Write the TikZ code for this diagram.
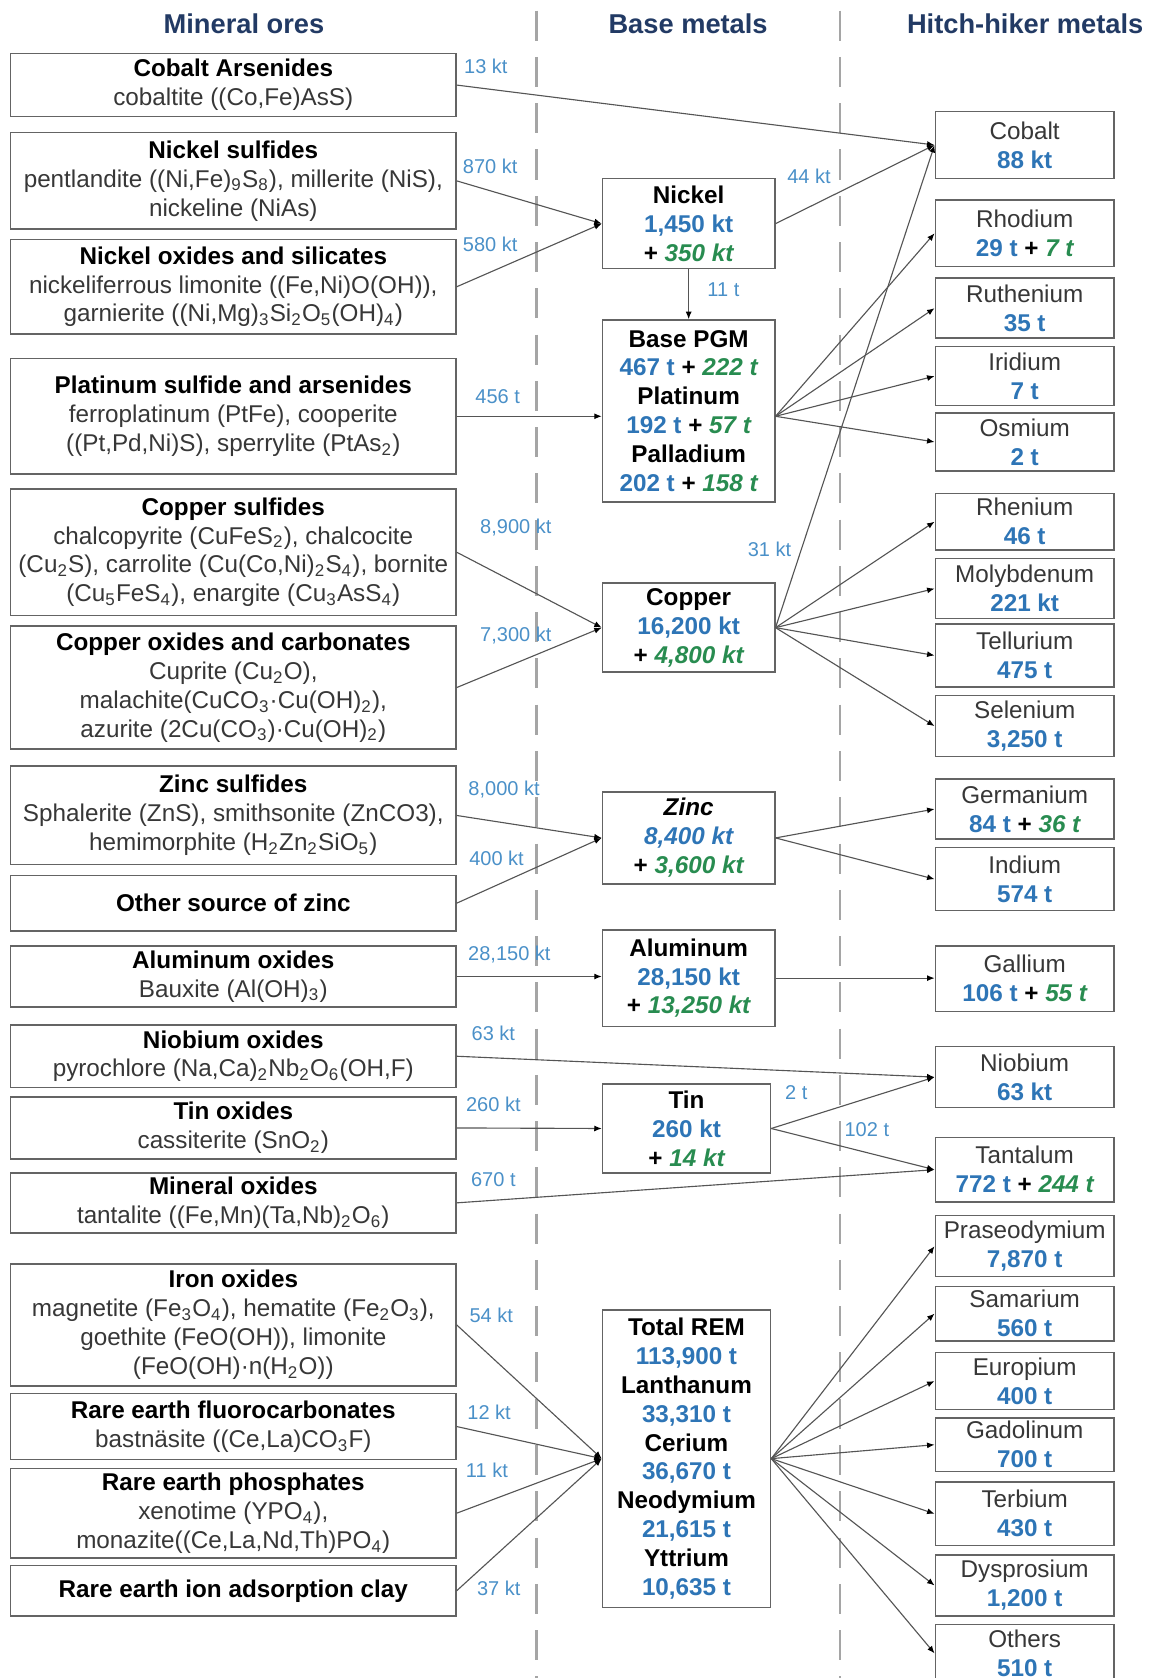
\documentclass[tikz,border=0pt]{standalone}
\usepackage{fontspec}
\setmainfont{Liberation Sans}
\usetikzlibrary{arrows.meta}
\definecolor{valblue}{RGB}{46,117,182}
\definecolor{lblblue}{RGB}{74,144,200}
\definecolor{valgreen}{RGB}{40,140,80}
\definecolor{hdrcol}{RGB}{34,58,100}
\definecolor{boxgray}{RGB}{100,100,100}
\definecolor{txtgray}{RGB}{55,55,55}
\definecolor{lngray}{RGB}{85,85,85}
\definecolor{dashgray}{RGB}{165,165,165}
\newcommand\sbs[1]{\textsubscript{#1}}
\newcommand\ttl[1]{{\bfseries\color{black}#1}}
\newcommand\bl[1]{{\bfseries\color{valblue}#1}}
\newcommand\gr[1]{{\bfseries\itshape\color{valgreen}#1}}
\newcommand\pl{{\bfseries\color{black}+}}
\def\U{0.4279pt}
\newcommand\bx[6]{\node[mbox, minimum width={(#4-#2)*\U}, minimum height={(#5-#3)*\U}] (#1) at ({(#2+#4)/2},{(#3+#5)/2}) {#6};}
\begin{document}
\begin{tikzpicture}[x=0.4279pt,y=-0.4279pt,
  mbox/.style={draw=boxgray, line width=0.6pt, inner sep=0pt, align=center, fill=white,
    font=\fontsize{9.7}{11.55}\selectfont, text=txtgray},
  lbl/.style={font=\fontsize{8}{9.6}\selectfont, text=lblblue, inner sep=0pt},
  hdr/.style={font=\fontsize{10.9}{13}\selectfont\bfseries, text=hdrcol, inner sep=0pt},
  conn/.style={draw=lngray, line width=0.45pt, -{Latex[length=3pt,width=2.4pt,color=black]}},
  dashln/.style={draw=dashgray, line width=1.1pt, dash pattern=on 12pt off 6.5pt}]
\useasboundingbox (0,0) rectangle (1075,1568);
% dashed separators
\coordinate (d1t) at (501,10); \coordinate (d1b) at (501,1575);
\coordinate (d2t) at (785,10); \coordinate (d2b) at (785,1575);
\draw[dashln] (d1t) -- (d1b);
\draw[dashln] (d2t) -- (d2b);
% headers
\node[hdr] (h1) at (228,22) {Mineral ores};
\node[hdr] (h2) at (643,22) {Base metals};
\node[hdr] (h3) at (958,22) {Hitch-hiker metals};
% left boxes
\bx{coA}{10}{50}{426}{109}{\ttl{Cobalt Arsenides}\\cobaltite ((Co,Fe)AsS)}
\bx{niS}{10}{124}{426}{214}{\ttl{Nickel sulfides}\\pentlandite ((Ni,Fe)\sbs{9}S\sbs{8}), millerite (NiS),\\nickeline (NiAs)}
\bx{niO}{10}{224}{426}{312}{\ttl{Nickel oxides and silicates}\\nickeliferrous limonite ((Fe,Ni)O(OH)),\\garnierite ((Ni,Mg)\sbs{3}Si\sbs{2}O\sbs{5}(OH)\sbs{4})}
\bx{ptS}{10}{335}{426}{443}{\ttl{Platinum sulfide and arsenides}\\ferroplatinum (PtFe), cooperite\\((Pt,Pd,Ni)S), sperrylite (PtAs\sbs{2})}
\bx{cuS}{10}{457}{426}{575}{\ttl{Copper sulfides}\\chalcopyrite (CuFeS\sbs{2}), chalcocite\\(Cu\sbs{2}S), carrolite (Cu(Co,Ni)\sbs{2}S\sbs{4}), bornite\\(Cu\sbs{5}FeS\sbs{4}), enargite (Cu\sbs{3}AsS\sbs{4})}
\bx{cuO}{10}{585}{426}{700}{\ttl{Copper oxides and carbonates}\\Cuprite (Cu\sbs{2}O),\\malachite(CuCO\sbs{3}·Cu(OH)\sbs{2}),\\azurite (2Cu(CO\sbs{3})·Cu(OH)\sbs{2})}
\bx{znS}{10}{716}{426}{808}{\ttl{Zinc sulfides}\\Sphalerite (ZnS), smithsonite (ZnCO3),\\hemimorphite (H\sbs{2}Zn\sbs{2}SiO\sbs{5})}
\bx{znO}{10}{818}{426}{870}{\ttl{Other source of zinc}}
\bx{alO}{10}{884}{426}{941}{\ttl{Aluminum oxides}\\Bauxite (Al(OH)\sbs{3})}
\bx{nbO}{10}{958}{426}{1016}{\ttl{Niobium oxides}\\pyrochlore (Na,Ca)\sbs{2}Nb\sbs{2}O\sbs{6}(OH,F)}
\bx{snO}{10}{1025}{426}{1083}{\ttl{Tin oxides}\\cassiterite (SnO\sbs{2})}
\bx{taO}{10}{1096}{426}{1152}{\ttl{Mineral oxides}\\tantalite ((Fe,Mn)(Ta,Nb)\sbs{2}O\sbs{6})}
\bx{feO}{10}{1181}{426}{1295}{\ttl{Iron oxides}\\magnetite (Fe\sbs{3}O\sbs{4}), hematite (Fe\sbs{2}O\sbs{3}),\\goethite (FeO(OH)), limonite\\(FeO(OH)·n(H\sbs{2}O))}
\bx{reF}{10}{1302}{426}{1364}{\ttl{Rare earth fluorocarbonates}\\bastnäsite ((Ce,La)CO\sbs{3}F)}
\bx{reP}{10}{1372}{426}{1456}{\ttl{Rare earth phosphates}\\xenotime (YPO\sbs{4}),\\monazite((Ce,La,Nd,Th)PO\sbs{4})}
\bx{reC}{10}{1463}{426}{1510}{\ttl{Rare earth ion adsorption clay}}
% middle boxes
\bx{ni}{563}{167}{724}{251}{\ttl{Nickel}\\\bl{1,450 kt}\\\pl\ \gr{350 kt}}
\bx{pgm}{563}{299}{724}{469}{\ttl{Base PGM}\\\bl{467 t} \pl\ \gr{222 t}\\\ttl{Platinum}\\\bl{192 t} \pl\ \gr{57 t}\\\ttl{Palladium}\\\bl{202 t} \pl\ \gr{158 t}}
\bx{cu}{563}{545}{724}{628}{\ttl{Copper}\\\bl{16,200 kt}\\\pl\ \gr{4,800 kt}}
\bx{zn}{563}{740}{724}{826}{\ttl{\itshape Zinc}\\\bl{\itshape 8,400 kt}\\\pl\ \gr{3,600 kt}}
\bx{al}{563}{869}{724}{959}{\ttl{Aluminum}\\\bl{28,150 kt}\\\pl\ \gr{13,250 kt}}
\bx{sn}{563}{1013}{720}{1096}{\ttl{Tin}\\\bl{260 kt}\\\pl\ \gr{14 kt}}
\bx{rem}{563}{1224}{720}{1502}{\ttl{Total REM}\\\bl{113,900 t}\\\ttl{Lanthanum}\\\bl{33,310 t}\\\ttl{Cerium}\\\bl{36,670 t}\\\ttl{Neodymium}\\\bl{21,615 t}\\\ttl{Yttrium}\\\bl{10,635 t}}
% right boxes
\bx{co}{874}{104}{1041}{167}{Cobalt\\\bl{88 kt}}
\bx{rh}{874}{187}{1041}{249}{Rhodium\\\bl{29 t} \pl\ \gr{7 t}}
\bx{ru}{874}{260}{1041}{316}{Ruthenium\\\bl{35 t}}
\bx{ir}{874}{324}{1041}{379}{Iridium\\\bl{7 t}}
\bx{os}{874}{386}{1041}{440}{Osmium\\\bl{2 t}}
\bx{rhe}{874}{461}{1041}{514}{Rhenium\\\bl{46 t}}
\bx{mo}{874}{522}{1041}{578}{Molybdenum\\\bl{221 kt}}
\bx{te}{874}{583}{1041}{642}{Tellurium\\\bl{475 t}}
\bx{se}{874}{650}{1041}{707}{Selenium\\\bl{3,250 t}}
\bx{ge}{874}{728}{1041}{784}{Germanium\\\bl{84 t} \pl\ \gr{36 t}}
\bx{inb}{874}{792}{1041}{851}{Indium\\\bl{574 t}}
\bx{ga}{874}{884}{1041}{945}{Gallium\\\bl{106 t} \pl\ \gr{55 t}}
\bx{nb}{874}{978}{1041}{1035}{Niobium\\\bl{63 kt}}
\bx{ta}{874}{1063}{1041}{1123}{Tantalum\\\bl{772 t} \pl\ \gr{244 t}}
\bx{pr}{874}{1136}{1041}{1193}{Praseodymium\\\bl{7,870 t}}
\bx{sm}{874}{1202}{1041}{1253}{Samarium\\\bl{560 t}}
\bx{eu}{874}{1264}{1041}{1317}{Europium\\\bl{400 t}}
\bx{gd}{874}{1325}{1041}{1375}{Gadolinum\\\bl{700 t}}
\bx{tb}{874}{1385}{1041}{1444}{Terbium\\\bl{430 t}}
\bx{dy}{874}{1453}{1041}{1510}{Dysprosium\\\bl{1,200 t}}
\bx{ot}{874}{1518}{1041}{1572}{Others\\\bl{510 t}}
% helper coordinates
\coordinate (pgmin) at (pgm.west |- ptS.east);
\coordinate (pgmout) at (pgm.east |- ptS.east);
\coordinate (alin) at (al.west |- alO.east);
\coordinate (gain) at (ga.west |- al.east);
% connectors
\draw[conn] (coA.east) -- (co.west);
\draw[conn] (niS.east) -- (ni.west);
\draw[conn] (niO.east) -- (ni.west);
\draw[conn] (ni.east) -- (co.west);
\draw[conn] (ni.south) -- (pgm.north);
\draw[conn] (ptS.east) -- (pgmin);
\foreach \t in {rh,ru,ir,os} \draw[conn] (pgmout) -- (\t.west);
\draw[conn] (cu.east) -- (co.west);
\draw[conn] (cuS.east) -- (cu.west);
\draw[conn] (cuO.east) -- (cu.west);
\foreach \t in {rhe,mo,te,se} \draw[conn] (cu.east) -- (\t.west);
\draw[conn] (znS.east) -- (zn.west);
\draw[conn] (znO.east) -- (zn.west);
\foreach \t in {ge,inb} \draw[conn] (zn.east) -- (\t.west);
\draw[conn] (alO.east) -- (alin);
\draw[conn] (al.east) -- (gain);
\draw[conn] (nbO.east) -- (nb.west);
\draw[conn] (snO.east) -- (sn.west);
\draw[conn] (sn.east) -- (nb.west);
\draw[conn] (sn.east) -- (ta.west);
\draw[conn] (taO.east) -- (ta.west);
\foreach \s in {feO,reF,reP,reC} \draw[conn] (\s.east) -- (rem.west);
\foreach \t in {pr,sm,eu,gd,tb,dy,ot} \draw[conn] (rem.east) -- (\t.west);
% flow labels
\node[lbl] (l1) at (454,62) {13 kt};
\node[lbl] (l2) at (458,155) {870 kt};
\node[lbl] (l3) at (458,228) {580 kt};
\node[lbl] (l4) at (756,165) {44 kt};
\node[lbl] (l5) at (676,271) {11 t};
\node[lbl] (l6) at (465,371) {456 t};
\node[lbl] (l7) at (482,493) {8,900 kt};
\node[lbl] (l8) at (719,513) {31 kt};
\node[lbl] (l9) at (482,594) {7,300 kt};
\node[lbl] (l10) at (471,738) {8,000 kt};
\node[lbl] (l11) at (464,802) {400 kt};
\node[lbl] (l12) at (476,892) {28,150 kt};
\node[lbl] (l13) at (461,966) {63 kt};
\node[lbl] (l14) at (461,1032) {260 kt};
\node[lbl] (l15) at (744,1021) {2 t};
\node[lbl] (l16) at (810,1056) {102 t};
\node[lbl] (l17) at (461,1102) {670 t};
\node[lbl] (l18) at (459,1229) {54 kt};
\node[lbl] (l19) at (457,1320) {12 kt};
\node[lbl] (l20) at (455,1374) {11 kt};
\node[lbl] (l21) at (466,1484) {37 kt};
\end{tikzpicture}
\end{document}
